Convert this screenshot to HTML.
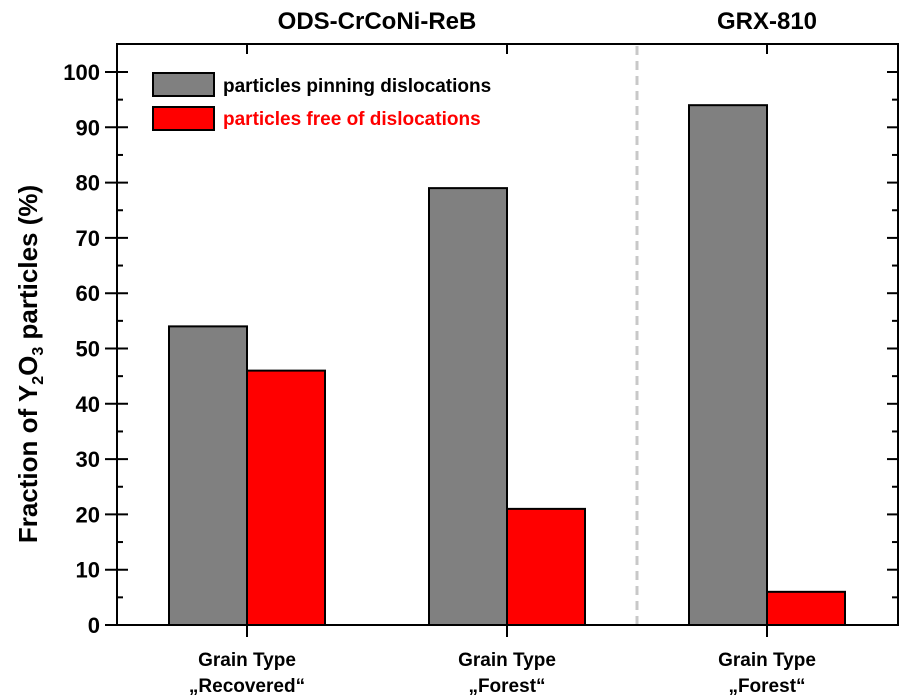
<!DOCTYPE html>
<html><head><meta charset="utf-8"><style>
html,body{margin:0;padding:0;background:#fff}
svg{display:block;font-family:"Liberation Sans",Arial,sans-serif;font-weight:bold}
</style></head><body>
<svg id="chart" width="900" height="698" viewBox="0 0 900 698">
<text x="377" y="29" font-size="24" text-anchor="middle">ODS-CrCoNi-ReB</text>
<text x="767" y="29" font-size="24" text-anchor="middle">GRX-810</text>
<line x1="637" y1="46" x2="637" y2="624" stroke="#c8c8c8" stroke-width="3" stroke-dasharray="9,6"/>
<g id="bars"></g>
<g id="axes"></g>
<rect x="117" y="44" width="781" height="581" fill="none" stroke="#000" stroke-width="2"/>
<text transform="translate(37,364) rotate(-90)" font-size="26" text-anchor="middle">Fraction of Y<tspan font-size="16" dy="6">2</tspan><tspan dy="-6">O</tspan><tspan font-size="16" dy="6">3</tspan><tspan dy="-6"> particles (%)</tspan></text>
<g>
<rect x="153" y="73" width="61" height="23" fill="#808080" stroke="#000" stroke-width="2"/>
<text x="223" y="92" font-size="19" fill="#000">particles pinning dislocations</text>
<rect x="153" y="107" width="61" height="23" fill="#ff0000" stroke="#000" stroke-width="2"/>
<text x="223" y="125" font-size="19" fill="#ff0000">particles free of dislocations</text>
</g>
</svg>
<script>
const categoriesLine1 = ["Grain Type","Grain Type","Grain Type"];
const categoriesLine2 = ["\u201ERecovered\u201C","\u201EForest\u201C","\u201EForest\u201C"];
const pinning = [54,79,94];
const free = [46,21,6];
const yTicks = [0,10,20,30,40,50,60,70,80,90,100];

const NS="http://www.w3.org/2000/svg";
const y0=625, pxPerUnit=5.53;
function yScale(v){return y0 - v*pxPerUnit;}
function xCenter(i){return 247 + i*260;}
const bw=78;
const bars=document.getElementById('bars');
const axes=document.getElementById('axes');
function mk(tag,attrs,parent){const e=document.createElementNS(NS,tag);for(const k in attrs)e.setAttribute(k,attrs[k]);parent.appendChild(e);return e;}
for(let i=0;i<pinning.length;i++){
  const c=xCenter(i);
  const g=mk('rect',{x:c-bw,y:yScale(pinning[i]),width:bw,height:y0-yScale(pinning[i]),fill:'#808080',stroke:'#000','stroke-width':2},bars);
  
  
  const r=mk('rect',{x:c,y:yScale(free[i]),width:bw,height:y0-yScale(free[i]),fill:'#ff0000',stroke:'#000','stroke-width':2},bars);
  
  
  mk('line',{x1:c,y1:625,x2:c,y2:637,stroke:'#000','stroke-width':2},axes);
  mk('line',{x1:c,y1:44,x2:c,y2:54,stroke:'#000','stroke-width':2},axes);
  const t1=mk('text',{x:c,y:666,'font-size':19,'text-anchor':'middle'},axes);
  t1.textContent=categoriesLine1[i];
  
  
  const t2=mk('text',{x:c,y:692,'font-size':19,'text-anchor':'middle'},axes);
  t2.textContent=categoriesLine2[i];
  
  
}
for(let j=0;j<yTicks.length;j++){
  const v=yTicks[j], y=yScale(v);
  mk('line',{x1:105,y1:y,x2:128,y2:y,stroke:'#000','stroke-width':2},axes);
  mk('line',{x1:887,y1:y,x2:898,y2:y,stroke:'#000','stroke-width':2},axes);
  const t=mk('text',{x:100,y:y+8,'font-size':22,'text-anchor':'end'},axes);
  t.textContent=v;
  
  
  if(j<yTicks.length-1){
    const ym=yScale(v+5);
    mk('line',{x1:117,y1:ym,x2:123,y2:ym,stroke:'#000','stroke-width':2},axes);
    mk('line',{x1:892,y1:ym,x2:898,y2:ym,stroke:'#000','stroke-width':2},axes);
  }
}
</script>
</body></html>
